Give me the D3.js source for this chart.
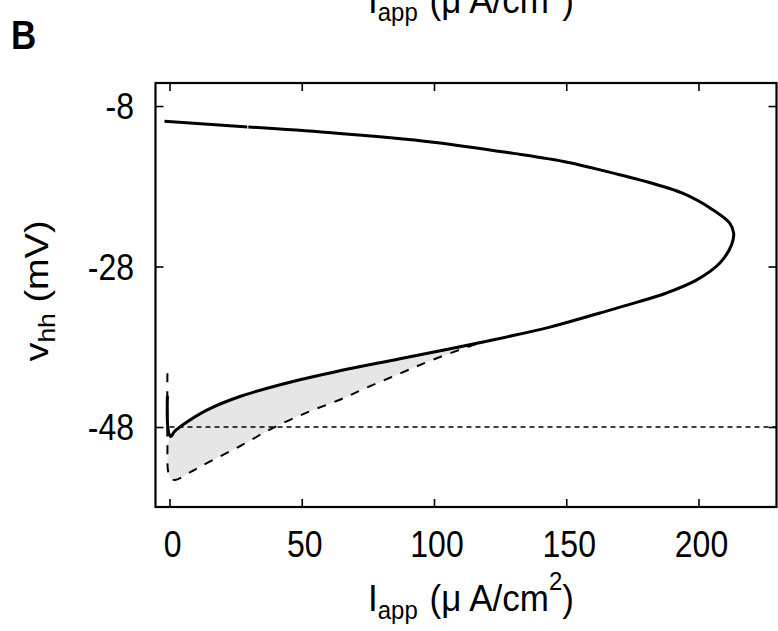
<!DOCTYPE html>
<html><head><meta charset="utf-8">
<script src="https://cdn.jsdelivr.net/npm/d3@7"></script>
<style>
html,body{margin:0;padding:0;background:#fff;}
svg text{font-family:"Liberation Sans",Arial,Helvetica,sans-serif;fill:#000;}
</style></head>
<body>
<svg id="chart" width="778" height="631"></svg>
<script>
// ---- data ----
// stable branch (solid), ordered along the curve
const solidI = [-1.9, 29.6, 60, 99.7, 130, 150.4, 167, 177.8, 194.2, 205.5, 211.8, 213.3, 212.5, 208, 199.2, 187.9, 175.3, 162.7, 143.8, 118.6, 87.1, 64.4, 47, 26.6, 14.1, 5.2, 1.8, 0.45, -0.5, -0.8];
const solidV = [-9.9, -10.6, -11.3, -12.5, -13.9, -15.0, -16.3, -17.2, -18.9, -20.95, -22.6, -23.85, -25.3, -27.6, -29.7, -31.3, -32.6, -33.8, -35.55, -37.4, -39.5, -41.0, -42.3, -44.2, -45.9, -47.7, -48.6, -49.2, -48.4, -44.1];
// unstable branch (dashed)
const dashI = [-0.8, -0.8, -0.5, 0.5, 2.1, 8, 14.1, 26.6, 39.2, 51.9, 64.4, 74.5, 87, 99.7, 118];
const dashV = [-41.3, -50, -53.6, -54.4, -54.6, -53.6, -52.5, -50.4, -48.1, -46.2, -44.6, -43.1, -41.35, -39.6, -37.4];
// horizontal reference level (dashed)
const levelV = -48;
const levelI = [0, 229.5];
// axes
const xTicks = [0, 50, 100, 150, 200];
const yTicks = [-8, -28, -48];
const xDomain = [-5.3, 229.5];
const yDomain = [-57.97, -5.13];

// ---- layout ----
const L = 155.5, R = 776.5, T = 83, B = 507;
const SY = 1.15; // vertical stretch of lettering
const svg = d3.select("#chart");
const x = d3.scaleLinear().domain(xDomain).range([L, R]);
const y = d3.scaleLinear().domain(yDomain).range([B, T]);

const solid = solidI.map((d, i) => [d, solidV[i]]);
const dashed = dashI.map((d, i) => [d, dashV[i]]);
const line = d3.line().x(d => x(d[0])).y(d => y(d[1])).curve(d3.curveCatmullRom.alpha(0.5));

// shaded region between lower stable branch and unstable branch
const iTop = solidI.indexOf(118.6), iMin = solidI.indexOf(0.45);
const fillPath = line(solid.slice(iTop, iMin + 1)) + line(dashed.slice(1)).replace(/^M/, "L") + "Z";
svg.append("path").attr("d", fillPath).attr("fill", "#e6e6e6").attr("stroke", "none");

// horizontal dashed level
svg.append("line")
  .attr("x1", x(levelI[0])).attr("x2", x(levelI[1]))
  .attr("y1", y(levelV)).attr("y2", y(levelV))
  .attr("stroke", "#000").attr("stroke-width", 1.3).attr("stroke-dasharray", "5,4");

// unstable dashed branch
svg.append("path").attr("d", line(dashed)).attr("fill", "none")
  .attr("stroke", "#000").attr("stroke-width", 2).attr("stroke-dasharray", "9,9");

// stable solid branch (with the small break seen in the upper part)
const brk = 1;
svg.append("path").attr("d", line(solid.slice(0, brk + 1))).attr("fill", "none")
  .attr("stroke", "#000").attr("stroke-width", 3).attr("stroke-linejoin", "round");
svg.append("path").attr("d", line(solid.slice(brk))).attr("fill", "none")
  .attr("stroke", "#000").attr("stroke-width", 3).attr("stroke-linejoin", "round");
svg.append("line")
  .attr("x1", x(solidI[brk])).attr("x2", x(solidI[brk]))
  .attr("y1", y(solidV[brk]) - 2.5).attr("y2", y(solidV[brk]) + 2.5)
  .attr("stroke", "#fff").attr("stroke-width", 1);

// axes with inward mirror ticks
const tickLen = 8;
const axB = d3.axisBottom(x).tickValues(xTicks).tickSize(-tickLen).tickFormat("");
const axT = d3.axisTop(x).tickValues(xTicks).tickSize(-tickLen).tickFormat("");
const axL = d3.axisLeft(y).tickValues(yTicks).tickSize(-tickLen).tickFormat("");
const axR = d3.axisRight(y).tickValues(yTicks).tickSize(-tickLen).tickFormat("");
[[axB, `translate(0,${B})`], [axT, `translate(0,${T})`], [axL, `translate(${L},0)`], [axR, `translate(${R},0)`]]
  .forEach(([ax, tr]) => {
    const g = svg.append("g").attr("transform", tr).call(ax);
    g.select(".domain").remove();
    g.selectAll(".tick line").attr("stroke", "#000").attr("stroke-width", 1.6);
  });
svg.append("rect").attr("x", L).attr("y", T).attr("width", R - L).attr("height", B - T)
  .attr("fill", "none").attr("stroke", "#000").attr("stroke-width", 2.2);

// tick labels
const fs = 32;
xTicks.forEach(t => {
  svg.append("text").attr("transform", `translate(${x(t) + 3},557) scale(1,${SY})`)
    .attr("text-anchor", "middle").attr("font-size", fs).text(t);
});
yTicks.forEach(t => {
  svg.append("text").attr("transform", `translate(134,${y(t) + 13}) scale(1,${SY})`)
    .attr("text-anchor", "end").attr("font-size", fs).text(t);
});

// x label (bottom) and clipped copy at the top (from the panel above)
function xlabel(bx, by) {
  const t = svg.append("text").attr("transform", `translate(${bx},${by}) scale(1,1.08)`)
    .attr("font-size", 35);
  t.append("tspan").text("I");
  t.append("tspan").attr("font-size", 24).attr("dy", 7).text("app");
  t.append("tspan").attr("dy", -7).attr("dx", 2).text(" (μ");
  t.append("tspan").attr("dx", 8).text("A/cm");
  t.append("tspan").attr("font-size", 24).attr("dy", -19).text("2");
  t.append("tspan").attr("dy", 19).text(")");
}
xlabel(368, 611);
xlabel(368, 13);

// y label
const yl = svg.append("text").attr("transform", `translate(48,291) scale(1,${SY}) rotate(-90)`)
  .attr("text-anchor", "middle").attr("font-size", 33);
yl.append("tspan").text("v");
yl.append("tspan").attr("font-size", 23).attr("dy", 7).text("hh");
yl.append("tspan").attr("dy", -7).text(" (mV)");

// panel letter
svg.append("text").attr("transform", `translate(11,49) scale(1,1.15)`)
  .attr("font-size", 35).attr("font-weight", "bold").text("B");
</script>
</body></html>
